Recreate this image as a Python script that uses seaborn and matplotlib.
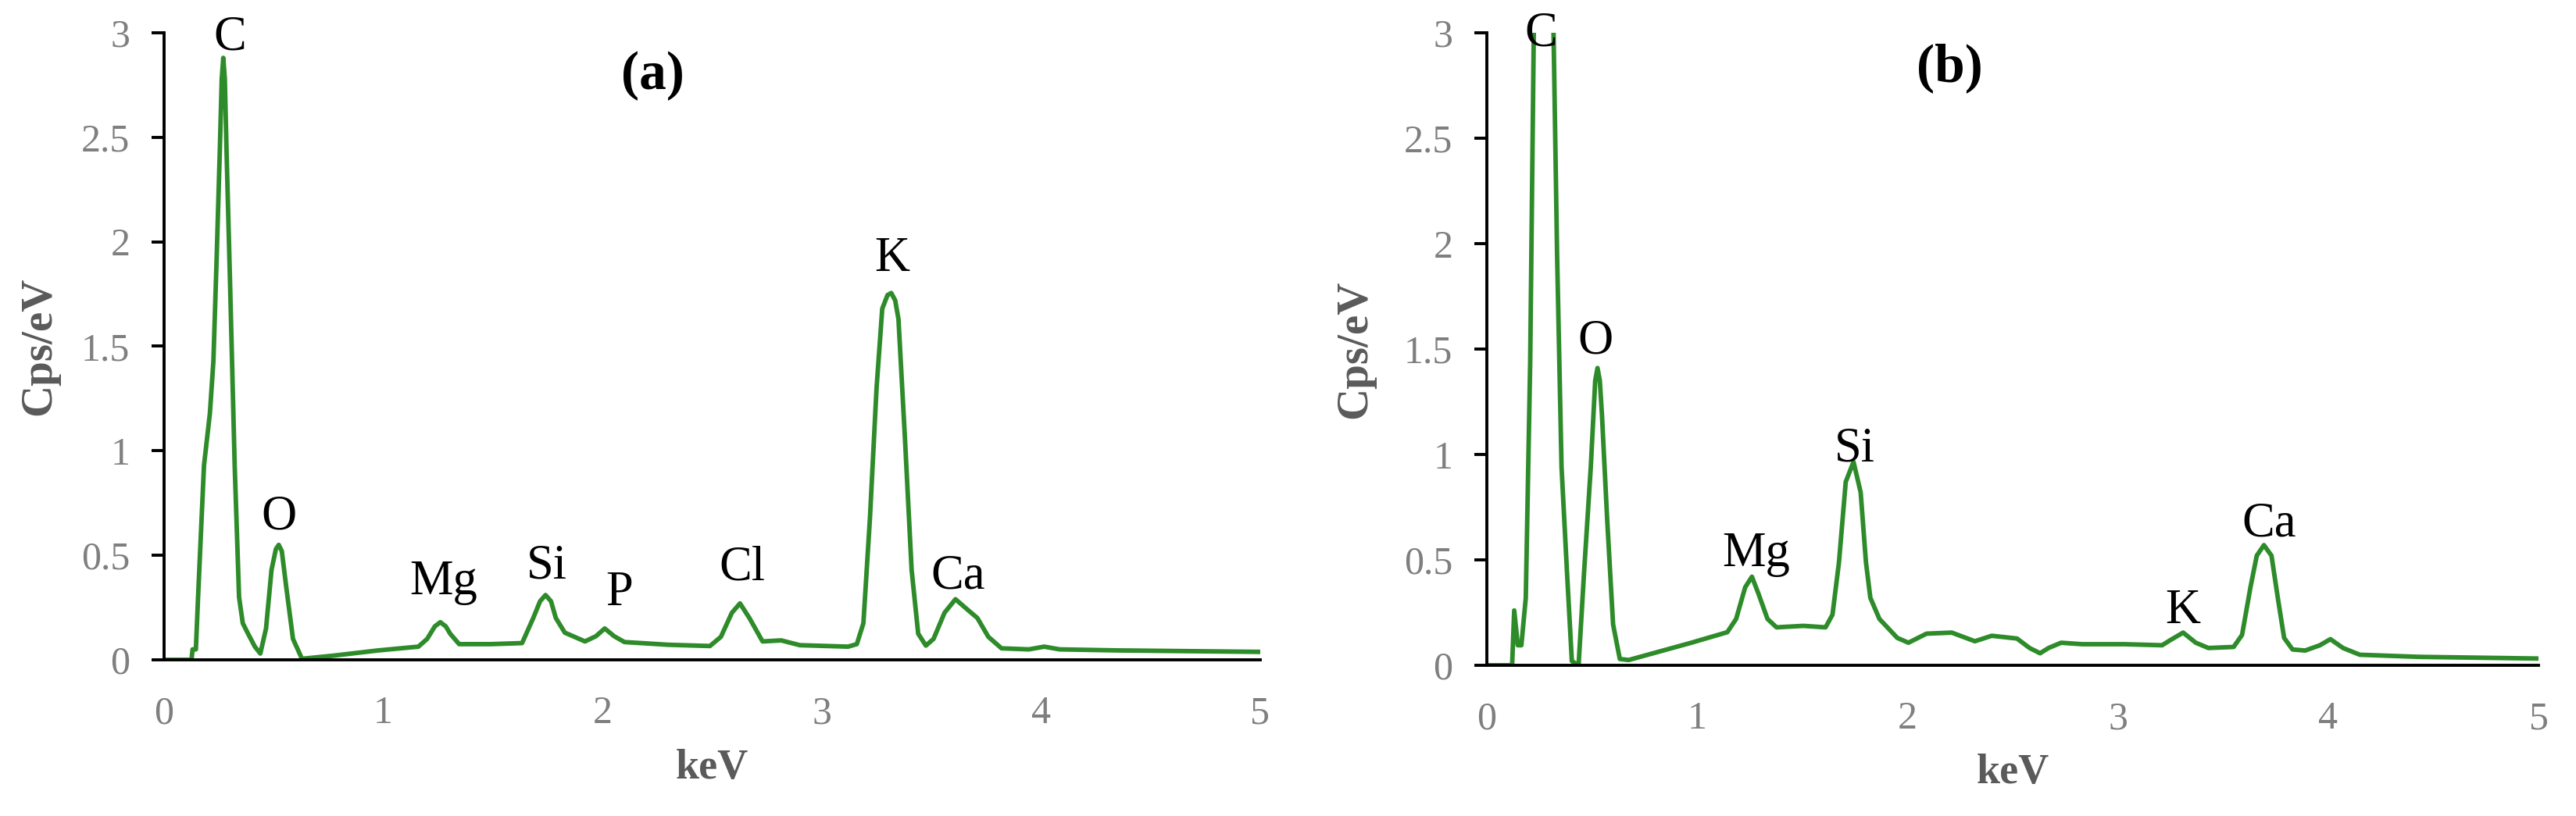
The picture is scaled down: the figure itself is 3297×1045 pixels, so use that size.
import matplotlib
matplotlib.use("Agg")
import matplotlib.pyplot as plt
import seaborn as sns

# spectrum (a)
a_kev = [0.0, 0.125, 0.13, 0.145, 0.155, 0.182, 0.209, 0.225, 0.24, 0.254, 0.263, 0.27, 0.277,
         0.285, 0.301, 0.322, 0.342, 0.359, 0.383, 0.414, 0.439, 0.465, 0.49, 0.51, 0.523, 0.537,
         0.557, 0.588, 0.629, 0.773, 0.977, 1.16, 1.20, 1.235, 1.26, 1.285, 1.305, 1.346, 1.49,
         1.633, 1.684, 1.715, 1.74, 1.765, 1.787, 1.828, 1.92, 1.97, 2.01, 2.053, 2.10, 2.30, 2.49,
         2.54, 2.59, 2.627, 2.67, 2.73, 2.815, 2.90, 3.12, 3.16, 3.19, 3.22, 3.25, 3.276, 3.30,
         3.317, 3.335, 3.35, 3.38, 3.41, 3.44, 3.475, 3.51, 3.56, 3.61, 3.665, 3.71, 3.76, 3.82,
         3.945, 4.015, 4.085, 4.35, 5.0]
a_cps = [0.0, 0.0, 0.05, 0.05, 0.30, 0.93, 1.18, 1.43, 1.93, 2.43, 2.78, 2.88, 2.78,
         2.43, 1.80, 0.93, 0.30, 0.175, 0.125, 0.063, 0.03, 0.15, 0.43, 0.53, 0.55, 0.52,
         0.35, 0.10, 0.005, 0.02, 0.045, 0.063, 0.10, 0.16, 0.18, 0.16, 0.125, 0.075, 0.075,
         0.08, 0.20, 0.28, 0.31, 0.28, 0.20, 0.13, 0.088, 0.113, 0.15, 0.113, 0.085, 0.072, 0.066,
         0.11, 0.225, 0.27, 0.20, 0.088, 0.093, 0.07, 0.063, 0.075, 0.175, 0.68, 1.30, 1.68, 1.745,
         1.755, 1.72, 1.63, 1.05, 0.43, 0.125, 0.068, 0.10, 0.225, 0.29, 0.24, 0.20, 0.11, 0.055,
         0.05, 0.063, 0.05, 0.045, 0.038]

# spectrum (b)
b_kev = [0.0, 0.12, 0.13, 0.147, 0.164, 0.185, 0.206, 0.223, 0.235, 0.27, 0.305, 0.317, 0.334,
         0.355, 0.381, 0.404, 0.436, 0.462, 0.494, 0.515, 0.526, 0.537, 0.547, 0.572, 0.60, 0.632,
         0.674, 0.972, 1.143, 1.185, 1.228, 1.26, 1.291, 1.334, 1.377, 1.504, 1.61, 1.643, 1.674,
         1.706, 1.743, 1.777, 1.802, 1.823, 1.866, 1.951, 2.004, 2.09, 2.21, 2.32, 2.40, 2.52,
         2.58, 2.63, 2.67, 2.73, 2.83, 3.03, 3.21, 3.25, 3.31, 3.37, 3.43, 3.55, 3.59, 3.63, 3.66,
         3.694, 3.73, 3.76, 3.79, 3.83, 3.89, 3.96, 4.01, 4.07, 4.15, 4.43, 5.0]
b_cps = [0.0, 0.0, 0.26, 0.095, 0.095, 0.32, 1.44, 3.0, 3.6, 3.9, 3.6, 3.0, 1.94,
         0.94, 0.44, 0.02, 0.0, 0.44, 0.94, 1.35, 1.41, 1.35, 1.19, 0.69, 0.194, 0.03,
         0.025, 0.107, 0.157, 0.22, 0.37, 0.42, 0.34, 0.22, 0.18, 0.187, 0.18, 0.24, 0.49,
         0.87, 0.965, 0.82, 0.49, 0.32, 0.22, 0.13, 0.107, 0.15, 0.155, 0.114, 0.14, 0.127,
         0.082, 0.057, 0.082, 0.107, 0.10, 0.10, 0.095, 0.12, 0.155, 0.107, 0.082, 0.087, 0.144,
         0.37, 0.52, 0.57, 0.52, 0.32, 0.13, 0.075, 0.07, 0.095, 0.124, 0.082, 0.05, 0.04, 0.032]

# peak labels
a_labels = ["C", "O", "Mg", "Si", "P", "Cl", "K", "Ca"]
a_lab_x = [0.30, 0.523, 1.276, 1.747, 2.075, 2.636, 3.32, 3.62]
a_lab_y = [2.92, 0.627, 0.314, 0.389, 0.262, 0.384, 1.86, 0.343]

b_labels = ["C", "O", "Mg", "Si", "K", "Ca"]
b_lab_x = [0.256, 0.515, 1.28, 1.75, 3.31, 3.72]
b_lab_y = [2.94, 1.48, 0.469, 0.97, 0.20, 0.613]

yticks = [0, 0.5, 1, 1.5, 2, 2.5, 3]
ytick_labels = ["0", "0.5", "1", "1.5", "2", "2.5", "3"]
xticks = [0, 1, 2, 3, 4, 5]

sns.set_style("white")
plt.rcParams["font.family"] = ["Liberation Serif", "DejaVu Serif"]

green = "#2e8b2a"
tick_grey = "#7f7f7f"
label_grey = "#5a5a5a"

fig = plt.figure(figsize=(32.97, 10.45), dpi=100)
ax_a = fig.add_axes([0.0637, 0.1914, 0.4255, 0.7684])
ax_b = fig.add_axes([0.5772, 0.1847, 0.4083, 0.7751])

panels = [
    (ax_a, a_kev, a_cps, a_labels, a_lab_x, a_lab_y, "(a)", 2.23, 2.73, -0.095, -0.142),
    (ax_b, b_kev, b_cps, b_labels, b_lab_x, b_lab_y, "(b)", 2.20, 2.77, -0.106, -0.140),
]

for ax, xs, ys, labs, lx, ly, tag, tag_x, tag_y, ylab_x, xlab_y in panels:
    sns.lineplot(x=xs, y=ys, ax=ax, color=green, lw=4.2, sort=False)
    ax.set_xlim(0, 5)
    ax.set_ylim(0, 3)
    ax.set_yticks(yticks)
    ax.set_yticklabels(ytick_labels)
    ax.set_xticks(xticks)
    ax.set_xticklabels([str(t) for t in xticks])
    for side in ["top", "right"]:
        ax.spines[side].set_visible(False)
    for side in ["left", "bottom"]:
        ax.spines[side].set_color("black")
        ax.spines[side].set_linewidth(2.8)
    ax.tick_params(axis="y", direction="out", length=11.5, width=2.8, color="black",
                   pad=20, labelsize=36, labelcolor=tick_grey, left=True)
    ax.tick_params(axis="x", length=0, pad=33, labelsize=36, labelcolor=tick_grey)
    ax.set_ylabel("Cps/eV", fontsize=41, fontweight="bold", color=label_grey)
    ax.set_xlabel("keV", fontsize=39, fontweight="bold", color=label_grey)
    ax.yaxis.set_label_coords(ylab_x, 0.5)
    ax.xaxis.set_label_coords(0.5, xlab_y)
    for t, x, y in zip(labs, lx, ly):
        ax.text(x, y, t, ha="center", va="baseline", fontsize=45, color="black")
    ax.text(tag_x, tag_y, tag, ha="center", va="baseline", fontsize=50,
            fontweight="bold", color="black")

fig.savefig("out.png", dpi=100, facecolor="white")
